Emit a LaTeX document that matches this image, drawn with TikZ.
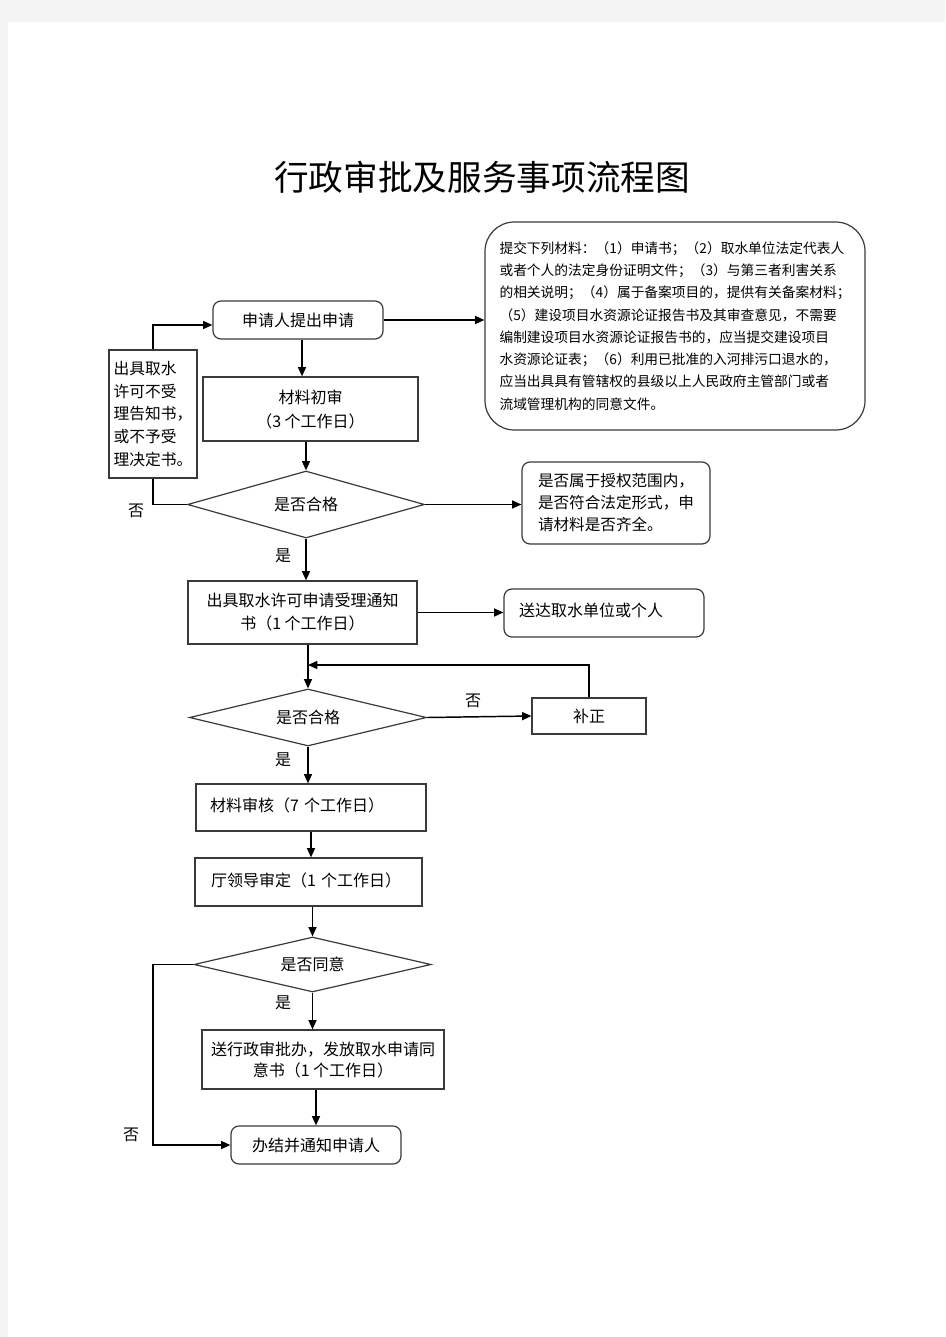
\documentclass[tikz,border=0pt]{standalone}
\usepackage{fontspec}
\setmainfont{Noto Sans CJK SC}
\usetikzlibrary{shapes.geometric,arrows.meta}
\definecolor{bg}{HTML}{F4F4F4}
\definecolor{bord}{HTML}{3A3A3A}
\begin{document}
\begin{tikzpicture}[x=0.75pt,y=-0.75pt,
  box/.style={draw=bord,line width=0.9pt,inner sep=0pt,align=center,font=\fontsize{12}{18}\selectfont},
  rbox/.style={box,rounded corners=6pt},
  dia/.style={box,diamond,shape aspect=3.5},
  arr/.style={line width=1.1pt,-{Triangle[length=7pt,width=6pt]}},
  ln/.style={line width=1.1pt},
  lab/.style={font=\fontsize{12}{12}\selectfont,inner sep=0pt}]
\useasboundingbox (0,0) rectangle (945,1337);
\fill[bg] (0,0) rectangle (945,1337);
\fill[white] (8,22) rectangle (945,1337);

\node[font=\fontsize{26}{26}\selectfont] (title) at (482,177) {行政审批及服务事项流程图};

\node[rbox,minimum width=127.5pt,minimum height=28.5pt] (A) at (298,320) {申请人提出申请};
\node[box,rounded corners=22pt,minimum width=285pt,minimum height=156pt,align=left,font=\fontsize{10.3}{16.7}\selectfont] (B) at (675,326) {提交下列材料：（1）申请书；（2）取水单位法定代表人\\或者个人的法定身份证明文件；（3）与第三者利害关系\\的相关说明；（4）属于备案项目的，提供有关备案材料；\\（5）建设项目水资源论证报告书及其审查意见，不需要\\编制建设项目水资源论证报告书的，应当提交建设项目\\水资源论证表；（6）利用已批准的入河排污口退水的，\\应当出具具有管辖权的县级以上人民政府主管部门或者\\流域管理机构的同意文件。};
\node[box,minimum width=161.25pt,minimum height=48pt] (C) at (310.5,409) {材料初审\\（3 个工作日）};
\node[box,minimum width=66pt,minimum height=96pt,align=left,font=\fontsize{11.8}{16.9}\selectfont] (D) at (153,414) {出具取水\\许可不受\\理告知书，\\或不予受\\理决定书。};
\node[dia,minimum width=177.75pt,minimum height=50.25pt] (E) at (306,504.5) {是否合格};
\node[rbox,minimum width=141pt,minimum height=61.5pt,align=left,font=\fontsize{11.7}{16.5}\selectfont] (F) at (616,503) {是否属于授权范围内，\\是否符合法定形式，申\\请材料是否齐全。};
\node[box,minimum width=171.75pt,minimum height=47.25pt,font=\fontsize{12}{17.25}\selectfont] (G) at (302.5,612.5) {出具取水许可申请受理通知\\书（1 个工作日）};
\node[rbox,minimum width=150pt,minimum height=36pt,text width=127.5pt,align=left] (H) at (604,613) {\raisebox{5pt}{送达取水单位或个人}};
\node[dia,minimum width=177.75pt,minimum height=42.75pt] (I) at (308,717.5) {是否合格};
\node[box,minimum width=85.5pt,minimum height=27pt] (J) at (589,716) {补正};
\node[box,minimum width=172.5pt,minimum height=35.25pt,text width=151.5pt,align=left] (K) at (311,807.5) {\raisebox{4pt}{材料审核（7 个工作日）}};
\node[box,minimum width=170.25pt,minimum height=36pt,text width=146.25pt,align=left] (L) at (308.5,882) {\raisebox{4pt}{厅领导审定（1 个工作日）}};
\node[dia,minimum width=177.75pt,minimum height=41.25pt] (M) at (312.5,964.5) {是否同意};
\node[box,minimum width=181.5pt,minimum height=44.25pt,font=\fontsize{12}{15.75}\selectfont] (O) at (323,1059.5) {送行政审批办，发放取水申请同\\意书（1 个工作日）};
\node[rbox,minimum width=127.5pt,minimum height=28.5pt] (N) at (316,1145) {办结并通知申请人};

\coordinate (m1) at (308,665);
\coordinate (nleft) at (153,0);

\draw[arr] (A.east) -- (B.west |- A.east);
\draw[arr] ([xshift=3pt]A.south) -- ([xshift=3pt]A.south |- C.north);
\draw[arr] (E.north |- C.south) -- (E.north);
\draw[ln] (E.west) -| (D.south);
\draw[arr] (D.north) |- ([yshift=-3.75pt]A.west);
\draw[arr] (E.east) -- (F.west |- E.east);
\draw[arr] (E.south) -- (E.south |- G.north);
\draw[arr] (G.east) -- (H.west |- G.east);
\draw[arr] (I.north |- G.south) -- (I.north);
\draw[arr] (I.east) -- (J.west);
\draw[arr] (J.north) |- (m1);
\draw[arr] (I.south) -- (I.south |- K.north);
\draw[arr] (K.south) -- (K.south |- L.north);
\draw[arr] (M.north |- L.south) -- (M.north);
\draw[arr] (M.south) -- (M.south |- O.north);
\draw[arr] (N.north |- O.south) -- (N.north);
\draw[arr] (M.west) -- (M.west -| nleft) |- (N.west);

\node[lab] (l1) at (136,511) {否};
\node[lab] (l2) at (283,556) {是};
\node[lab] (l3) at (473,701) {否};
\node[lab] (l4) at (283,760) {是};
\node[lab] (l5) at (283,1003) {是};
\node[lab] (l6) at (131,1135) {否};
\end{tikzpicture}
\end{document}
